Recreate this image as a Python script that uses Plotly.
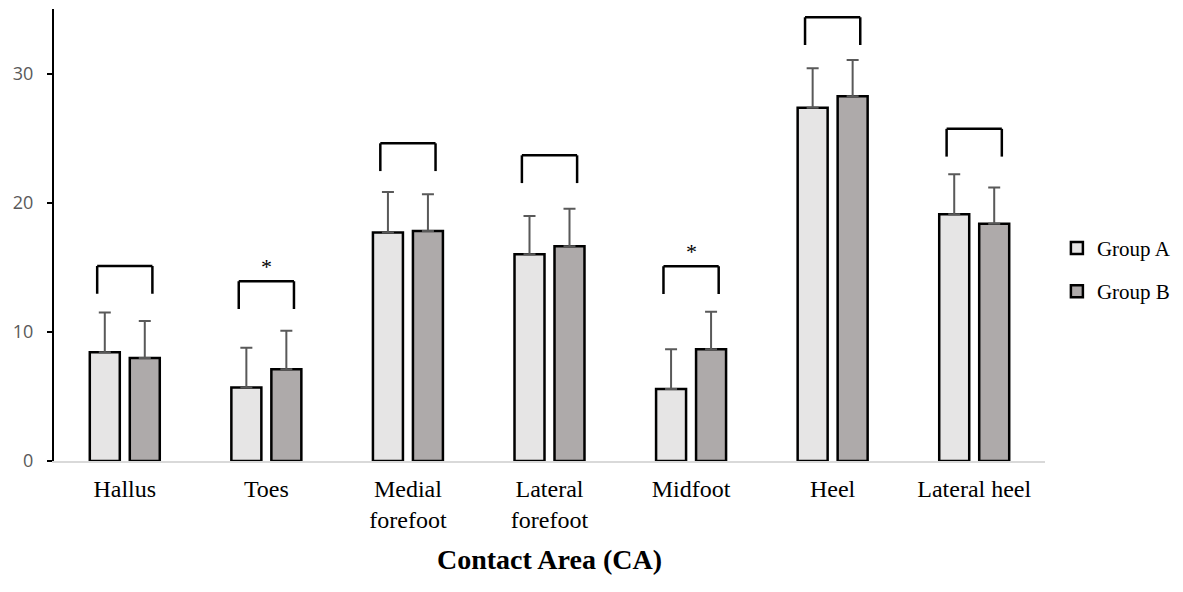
import plotly.graph_objects as go

categories = ["Hallus", "Toes", "Medial<br>forefoot", "Lateral<br>forefoot", "Midfoot", "Heel", "Lateral heel"]
group_a = [8.43, 5.70, 17.69, 16.0, 5.57, 27.35, 19.10]
group_a_sd = [3.07, 3.06, 3.14, 2.97, 3.09, 3.07, 3.10]
group_b = [7.97, 7.11, 17.81, 16.63, 8.66, 28.25, 18.38]
group_b_sd = [2.88, 2.97, 2.84, 2.91, 2.89, 2.81, 2.79]
bracket_top = [15.1, 13.92, 24.6, 23.67, 15.08, 34.36, 25.72]
significance = ["", "*", "", "", "*", "", ""]
y_ticks = [0, 10, 20, 30]

xs = list(range(len(categories)))

fig = go.Figure()
fig.add_trace(go.Bar(
    x=xs, y=group_a, name="Group A", legendgroup="a",
    marker=dict(color="#e6e5e5", line=dict(color="black", width=2.5)),
    error_y=dict(type="data", symmetric=False, array=group_a_sd, arrayminus=[0] * len(xs),
                 color="#595959", thickness=2, width=6),
))
fig.add_trace(go.Bar(
    x=xs, y=group_b, name="Group B", legendgroup="b",
    marker=dict(color="#aeaaaa", line=dict(color="black", width=2.5)),
    error_y=dict(type="data", symmetric=False, array=group_b_sd, arrayminus=[0] * len(xs),
                 color="#595959", thickness=2, width=6),
))

half = 0.195
drop = 2.15
for i, top in enumerate(bracket_top):
    line = dict(color="black", width=2.5)
    fig.add_shape(type="line", xref="x", yref="y", x0=i - half, x1=i + half, y0=top, y1=top, line=line)
    fig.add_shape(type="line", xref="x", yref="y", x0=i - half, x1=i - half, y0=top, y1=top - drop, line=line)
    fig.add_shape(type="line", xref="x", yref="y", x0=i + half, x1=i + half, y0=top, y1=top - drop, line=line)
    if significance[i]:
        fig.add_annotation(x=i, y=top, xref="x", yref="y", text=significance[i], showarrow=False,
                           yanchor="bottom", yshift=0,
                           font=dict(family="Liberation Serif", size=22, color="black"))

fig.add_annotation(text="<b>Contact Area (CA)</b>", xref="paper", yref="paper", x=0.5, y=-0.219,
                   xanchor="center", yanchor="middle", showarrow=False,
                   font=dict(family="Liberation Serif", size=28, color="black"))

fig.update_layout(
    width=1183, height=592,
    margin=dict(l=46, r=146, t=1, b=139),
    paper_bgcolor="white", plot_bgcolor="white",
    barmode="group", bargap=0.435, bargroupgap=0.25,
    showlegend=True,
    legend=dict(x=1.012, y=0.423, xanchor="left", yanchor="middle",
                font=dict(family="Liberation Serif", size=21, color="black"),
                itemwidth=30, tracegroupgap=13, traceorder="grouped",
                bgcolor="rgba(0,0,0,0)"),
    xaxis=dict(range=[-0.5, 6.5], tickvals=xs, ticktext=categories, showgrid=False, zeroline=False,
               showline=True, linecolor="#d9d9d9", linewidth=2, ticks="", ticklabelstandoff=5,
               tickfont=dict(family="Liberation Serif", size=24, color="black")),
    yaxis=dict(range=[0, 35], tickvals=y_ticks, showgrid=False, zeroline=False,
               showline=True, linecolor="black", linewidth=2, ticks="outside", ticklen=5,
               tickcolor="black", tickwidth=2, ticklabelstandoff=10,
               tickfont=dict(family="Open Sans", size=18, color="#595959")),
)

fig.write_html("out.html")
